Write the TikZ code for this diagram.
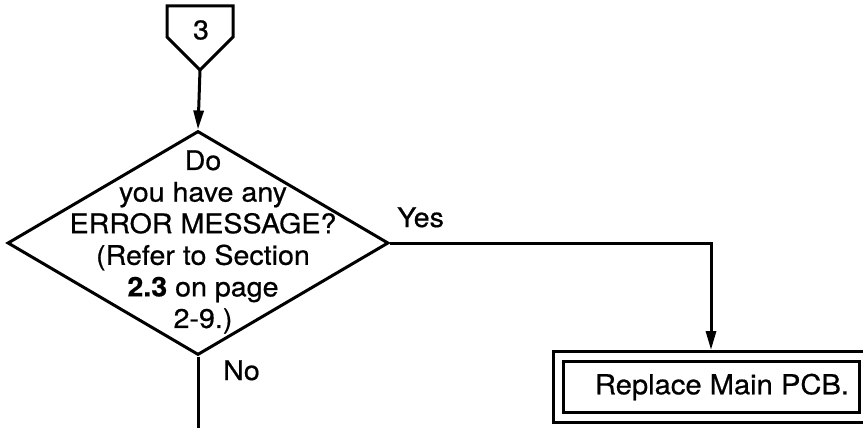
\documentclass[tikz,border=0pt]{standalone}
\usepackage{fontspec}
\setmainfont[FakeStretch=1.06,FakeBold=0.6]{TeX Gyre Heros}
\usetikzlibrary{shapes.geometric,arrows.meta}
\tikzset{
  ln/.style={line width=3pt},
  arr/.style={ln,-{Triangle[length=19pt,width=10pt]}},
  txt/.style={font=\fontsize{27}{31.6}\selectfont, inner sep=0pt, align=center},
  decbox/.style={draw, ln, diamond, minimum width=381pt, minimum height=224pt, inner sep=0pt},
  pcbbox/.style={draw, ln, double, double distance=7pt, minimum width=306pt, minimum height=61pt, inner sep=0pt, outer sep=6.5pt, font=\fontsize{27.5}{32}\selectfont},
}
\begin{document}
\begin{tikzpicture}[x=1pt,y=-1pt]
\useasboundingbox (0,0) rectangle (863,428);
% off-page connector
\draw[ln, line join=miter] (167,6) -- (233,6) -- (233,37) -- (200,70) -- (167,37) -- cycle;
\node[txt] (c3) at (201,30) {3};
\coordinate (c3tip) at (200,70);
% decision
\node[decbox] (dec) at (198,243) {};
\node[txt] (dectext) at (203,242) {Do\\you have any\\ERROR MESSAGE?\\(Refer to Section\\\textbf{2.3} on page\\2-9.)};
% process box
\node[pcbbox] (pcb) at (711,387) {\hspace*{22pt}Replace Main PCB.};
\coordinate (noend) at (198,432);
% connectors
\draw[arr] (c3tip) -- (dec.north);
\draw[arr] (dec.east) -| (pcb.north);
\draw[ln] (dec.south) -- (noend);
% labels
\node[txt, anchor=base west] (yes) at (397,227) {Yes};
\node[txt, anchor=base west] (no) at (223,380) {No};
\end{tikzpicture}
\end{document}
